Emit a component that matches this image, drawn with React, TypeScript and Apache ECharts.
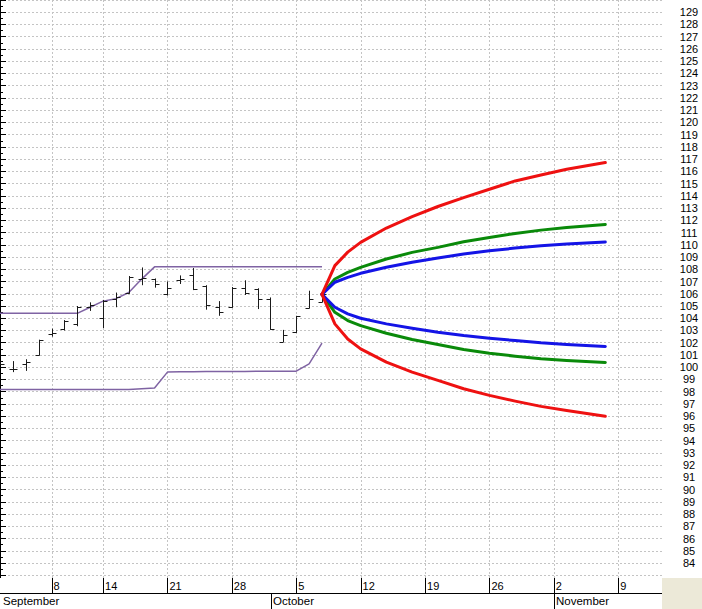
import React, { useEffect, useRef } from 'react';
import * as echarts from 'echarts';

// Trading days shown as OHLC bars (index 0 = Sep 1)
const tradingDays = [
  'Sep 1', 'Sep 2', 'Sep 3', 'Sep 4', 'Sep 8', 'Sep 9', 'Sep 10', 'Sep 11',
  'Sep 14', 'Sep 15', 'Sep 16', 'Sep 17', 'Sep 18', 'Sep 21', 'Sep 22', 'Sep 23',
  'Sep 24', 'Sep 25', 'Sep 28', 'Sep 29', 'Sep 30', 'Oct 1', 'Oct 2', 'Oct 5',
  'Oct 6', 'Oct 7',
];
const openPrices = [100.5, 99.85, 100.3, 101.0, 102.7, 103.1, 103.5, 104.95, 104.0, 105.6, 106.1, 107.2, 107.2, 106.0, 107.1, 107.5, 106.65, 104.9, 104.9, 106.5, 106.4, 105.6, 102.1, 102.85, 104.8, 105.35];
const highPrices = [100.4, 100.5, 100.65, 102.25, 103.15, 103.85, 105.0, 105.3, 105.5, 106.1, 107.45, 108.15, 107.25, 107.0, 107.5, 108.1, 106.7, 105.4, 106.55, 107.1, 106.45, 105.7, 103.05, 104.2, 106.25, 106.0];
const lowPrices = [100.2, 99.6, 99.7, 100.95, 102.5, 103.0, 103.35, 104.6, 103.2, 104.9, 106.0, 106.7, 106.5, 105.85, 106.8, 106.3, 104.7, 104.2, 104.85, 105.9, 104.75, 103.05, 102.05, 102.8, 104.8, 105.3];
const closePrices = [100.3, 99.85, 100.45, 102.2, 102.8, 103.8, 104.9, 105.1, 105.45, 105.75, 107.4, 107.3, 106.8, 106.5, 107.2, 106.35, 105.1, 104.5, 106.5, 106.05, 105.6, 103.1, 102.6, 104.15, 105.6, 105.95];

// Channel lines (purple)
const channelUpper = [104.4, 104.4, 104.4, 104.4, 104.4, 104.4, 104.4, 104.9, 105.4, 105.6, 106.1, 107.2, 108.2, 108.2, 108.2, 108.2, 108.2, 108.2, 108.2, 108.2, 108.2, 108.2, 108.2, 108.2, 108.2, 108.2];
const channelLower = [98.18, 98.18, 98.18, 98.18, 98.18, 98.18, 98.18, 98.18, 98.18, 98.18, 98.18, 98.24, 98.3, 99.6, 99.62, 99.63, 99.64, 99.65, 99.66, 99.66, 99.67, 99.67, 99.68, 99.68, 100.28, 101.96];

// Forecast cones (trading-day index, value)
const forecastIdx = [25, 26, 27, 28, 30, 32, 34, 36, 38, 40, 42, 44, 47];
const redUpper = [105.95, 108.3, 109.4, 110.2, 111.37, 112.3, 113.13, 113.86, 114.54, 115.22, 115.7, 116.17, 116.72];
const redLower = [105.95, 103.54, 102.3, 101.5, 100.41, 99.6, 98.92, 98.24, 97.7, 97.23, 96.8, 96.47, 96.0];
const greenUpper = [105.95, 107.21, 107.75, 108.16, 108.84, 109.38, 109.79, 110.25, 110.6, 110.93, 111.2, 111.42, 111.66];
const greenLower = [105.95, 104.49, 103.81, 103.4, 102.78, 102.26, 101.85, 101.44, 101.14, 100.9, 100.69, 100.55, 100.39];
const blueUpper = [105.95, 106.94, 107.34, 107.67, 108.16, 108.57, 108.92, 109.25, 109.52, 109.73, 109.92, 110.06, 110.23];
const blueLower = [105.95, 104.9, 104.36, 104.0, 103.54, 103.18, 102.86, 102.59, 102.37, 102.18, 101.99, 101.85, 101.69];

// Axis ticks
const dayTickIdx = [4, 8, 13, 18, 23, 28, 33, 38, 43, 48];
const dayTickLabels = ['8', '14', '21', '28', '5', '12', '19', '26', '2', '9'];
const monthTickIdx = [0, 21, 43];
const monthLabels = ['September', 'October', 'November'];
const yLabelMin = 84;
const yLabelMax = 129;

const FONT = '"Liberation Sans", Arial, sans-serif';

function pairs(xs: number[], ys: number[]) {
  return xs.map((x, i) => [x, ys[i]]);
}

export default function App() {
  const ref = useRef<HTMLDivElement>(null);

  useEffect(() => {
    if (!ref.current) return;
    const chart = echarts.init(ref.current, undefined, { renderer: 'svg' });
    const xMax = 51.4;
    const unit = 12.267;
    const gridTop = 11 - (130 - yLabelMax) * unit;

    const curve = (data: number[], color: string) => ({
      type: 'line',
      xAxisIndex: 0,
      yAxisIndex: 0,
      data: pairs(forecastIdx, data),
      showSymbol: false,
      symbol: 'none',
      smooth: false,
      lineStyle: { color, width: 3, join: 'round', cap: 'round' },
      z: 4,
    });

    // vertical separators drawn through the axis scale
    const vLines = (xIdx: number, yIdx: number, values: number[], yVal: number, color: string, dash: any, z: number) => ({
      type: 'custom',
      xAxisIndex: xIdx,
      yAxisIndex: yIdx,
      data: values.map((v) => [v, yVal]),
      encode: { x: 0, y: 1 },
      silent: true,
      z,
      renderItem: (params: any, api: any) => {
        const p = api.coord([api.value(0), api.value(1)]);
        const x = Math.round(p[0]) + 0.5;
        const cs = params.coordSys;
        return {
          type: 'line',
          shape: { x1: x, y1: cs.y, x2: x, y2: cs.y + cs.height },
          style: { stroke: color, lineWidth: 1, lineDash: dash },
        };
      },
    });

    const option: any = {
      animation: false,
      backgroundColor: '#ffffff',
      grid: [
        { left: 0, width: 662, top: gridTop, height: (130 - 82) * unit },
        { left: 0, width: 662, top: 578, height: 15, show: true, backgroundColor: '#ffffff', borderWidth: 0, z: 5 },
        { left: 0, width: 662, top: 593, height: 16, show: true, backgroundColor: '#ffffff', borderWidth: 0, z: 5 },
      ],
      xAxis: [
        {
          gridIndex: 0, type: 'value', min: 0, max: xMax,
          axisLine: { show: false },
          axisTick: { show: false },
          axisLabel: { show: false },
          splitLine: { show: false },
        },
        {
          gridIndex: 1, type: 'value', min: 0, max: xMax, position: 'top', z: 6,
          axisLine: { show: true, lineStyle: { color: '#000', width: 1 } },
          axisTick: { show: false },
          axisLabel: {
            show: true, customValues: dayTickIdx, inside: true, margin: 7.5,
            align: 'left', verticalAlign: 'middle', padding: [0, 0, 0, 2],
            fontSize: 11, color: '#000', fontFamily: FONT,
            formatter: (v: number) => {
              const i = dayTickIdx.indexOf(Math.round(v));
              return i >= 0 ? dayTickLabels[i] : '';
            },
          },
          splitLine: { show: false },
        },
        {
          gridIndex: 2, type: 'value', min: 0, max: xMax, position: 'top', z: 6,
          axisLine: { show: true, lineStyle: { color: '#000', width: 1 } },
          axisTick: { show: false },
          axisLabel: {
            show: true, customValues: monthTickIdx, inside: true, margin: 8,
            align: 'left', verticalAlign: 'middle', padding: [0, 0, 0, 2],
            fontSize: 11.5, color: '#000', fontFamily: FONT,
            formatter: (v: number) => {
              const i = monthTickIdx.indexOf(Math.round(v));
              return i >= 0 ? monthLabels[i] : '';
            },
          },
          splitLine: { show: false },
        },
      ],
      yAxis: [
        {
          gridIndex: 0, type: 'value', position: 'right', min: 82, max: 130, interval: 1,
          axisLine: { show: true, lineStyle: { color: '#000', width: 1 } },
          axisTick: { show: true, length: 6, lineStyle: { color: '#000', width: 1 } },
          minorTick: { show: true, splitNumber: 2, length: 3, lineStyle: { color: '#000', width: 1 } },
          axisLabel: {
            show: true, margin: 27, align: 'center', fontSize: 11, color: '#000', fontFamily: FONT,
            formatter: (v: number) => (v >= yLabelMin && v <= yLabelMax ? String(v) : ''),
          },
          splitLine: { show: true, lineStyle: { color: '#c4c4c4', type: [2, 2], width: 1 } },
        },
        { gridIndex: 1, type: 'value', min: 0, max: 1, show: false },
        { gridIndex: 2, type: 'value', min: 0, max: 1, show: false },
      ],
      series: [
        vLines(0, 0, dayTickIdx, 100, '#c4c4c4', [2, 2], 1),
        vLines(1, 1, dayTickIdx, 0.5, '#000', null, 7),
        vLines(2, 2, monthTickIdx.filter((v) => v > 0), 0.5, '#000', null, 7),
        {
          type: 'custom',
          xAxisIndex: 0,
          yAxisIndex: 0,
          data: tradingDays.map((_, i) => [i, openPrices[i], highPrices[i], lowPrices[i], closePrices[i]]),
          encode: { x: 0, y: [1, 2, 3, 4] },
          z: 3,
          renderItem: (params: any, api: any) => {
            const x = api.value(0);
            const o = api.coord([x, api.value(1)]);
            const h = api.coord([x, api.value(2)]);
            const l = api.coord([x, api.value(3)]);
            const c = api.coord([x, api.value(4)]);
            const px = Math.round(o[0]) + 0.5;
            const oy = Math.round(o[1]) + 0.5;
            const cy = Math.round(c[1]) + 0.5;
            const style = { stroke: '#1a1a1a', lineWidth: 1 };
            return {
              type: 'group',
              children: [
                { type: 'line', shape: { x1: px, y1: h[1], x2: px, y2: l[1] }, style },
                { type: 'line', shape: { x1: px - 4, y1: oy, x2: px, y2: oy }, style },
                { type: 'line', shape: { x1: px, y1: cy, x2: px + 4, y2: cy }, style },
              ],
            };
          },
        },
        {
          type: 'line', xAxisIndex: 0, yAxisIndex: 0,
          data: tradingDays.map((_, i) => [i, channelUpper[i]]),
          symbol: 'none', lineStyle: { color: '#7f63a3', width: 1.5 }, z: 2,
        },
        {
          type: 'line', xAxisIndex: 0, yAxisIndex: 0,
          data: tradingDays.map((_, i) => [i, channelLower[i]]),
          symbol: 'none', lineStyle: { color: '#7f63a3', width: 1.5 }, z: 2,
        },
        curve(greenUpper, '#0a8a0a'),
        curve(greenLower, '#0a8a0a'),
        curve(blueUpper, '#1414e6'),
        curve(blueLower, '#1414e6'),
        curve(redUpper, '#ee1111'),
        curve(redLower, '#ee1111'),
      ],
      graphic: [
        {
          type: 'rect', x: 662, y: 578, shape: { width: 40, height: 31 },
          style: { fill: '#ece9d8' }, z: 20, silent: true,
        },
      ],
    };

    chart.setOption(option);
    return () => chart.dispose();
  }, []);

  return (
    <div
      ref={ref}
      style={{ position: 'absolute', left: 0, top: 0, width: 702, height: 609, background: '#fff' }}
    />
  );
}
